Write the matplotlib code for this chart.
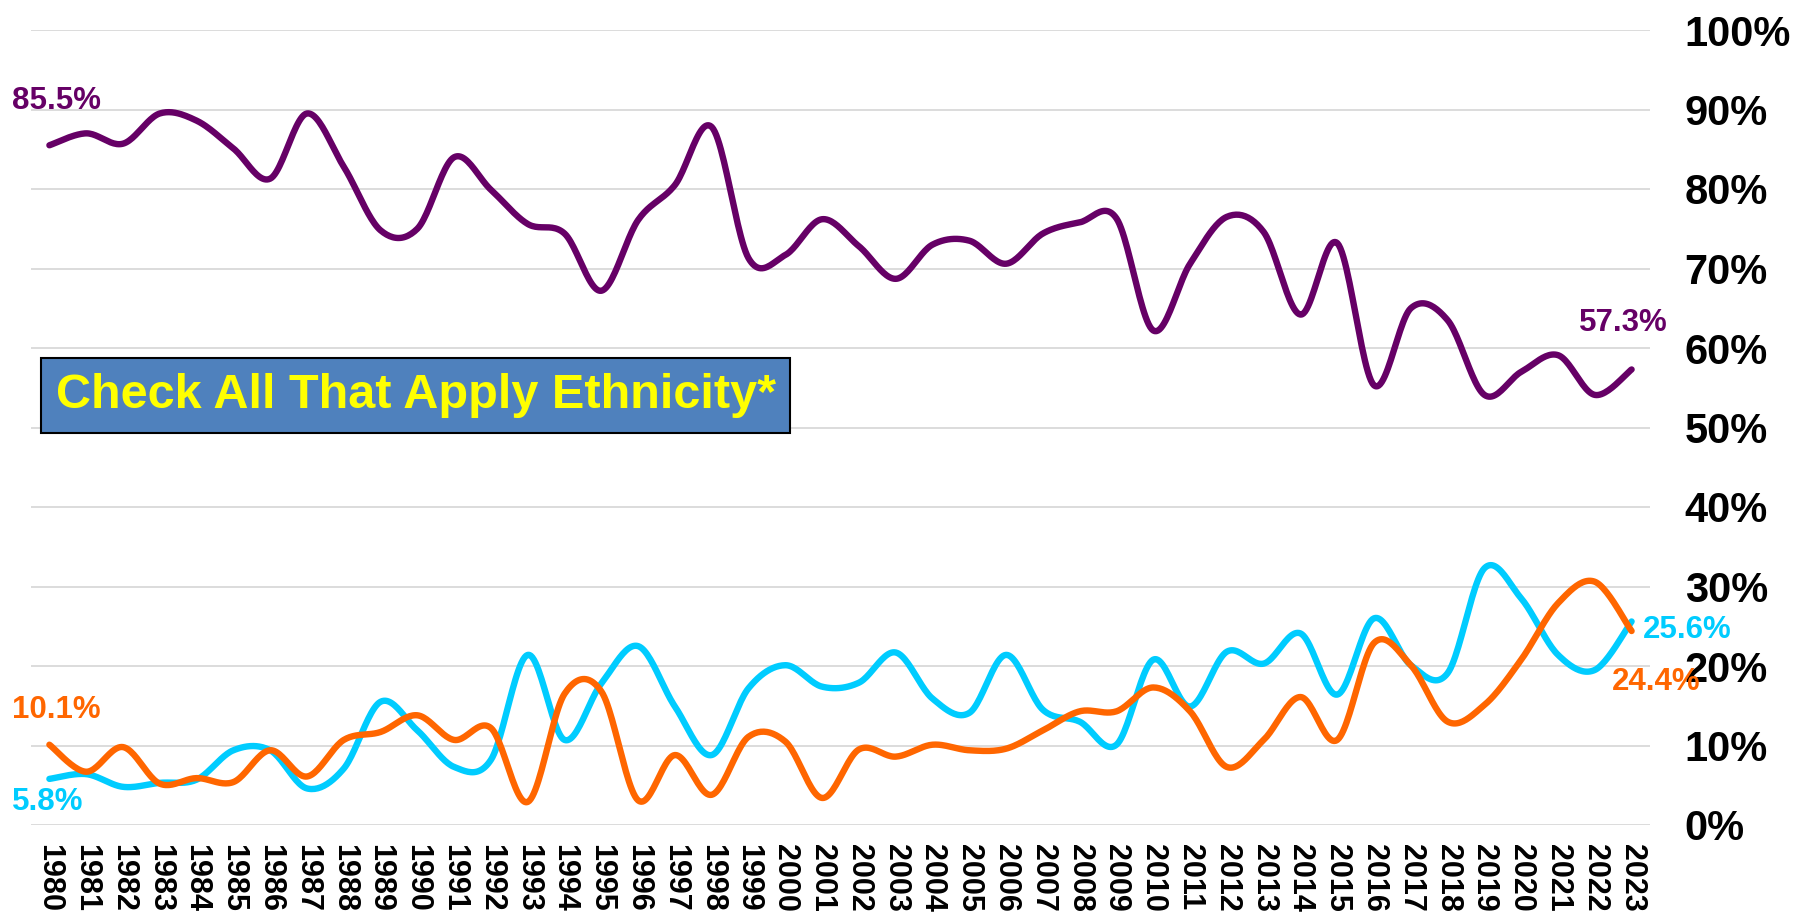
import numpy as np
import matplotlib
matplotlib.use("Agg")
import matplotlib.pyplot as plt
from matplotlib.ticker import FuncFormatter

plt.rcParams['font.family'] = ['Liberation Sans', 'DejaVu Sans']
plt.rcParams['font.weight'] = 'bold'

years = list(range(1980, 2024))

not_hispanic = [85.5, 87.0, 85.7, 89.5, 88.6, 85.1, 81.3, 89.5, 82.8, 74.8,
                75.0, 84.0, 79.9, 75.6, 74.4, 67.2, 76.1, 80.5, 87.8, 71.3,
                71.7, 76.2, 72.8, 68.7, 73.0, 73.5, 70.6, 74.4, 75.8, 76.3,
                62.2, 70.6, 76.5, 74.6, 64.2, 73.2, 55.3, 65.0, 63.5, 54.1,
                57.0, 59.1, 54.1, 57.3]
hispanic = [5.8, 6.4, 4.8, 5.3, 5.7, 9.4, 9.4, 4.6, 7.1, 15.5,
            11.9, 7.3, 8.2, 21.4, 10.7, 17.8, 22.5, 14.9, 8.8, 17.2,
            20.1, 17.4, 17.9, 21.7, 15.9, 14.1, 21.4, 14.5, 13.0, 10.1,
            20.8, 14.9, 21.8, 20.3, 24.1, 16.4, 26.0, 20.1, 19.1, 32.3,
            28.5, 21.4, 19.5, 25.6]
unknown = [10.1, 6.7, 9.8, 5.2, 5.9, 5.4, 9.4, 6.1, 10.7, 11.7,
           13.8, 10.7, 12.2, 2.9, 16.5, 16.8, 3.1, 8.8, 3.8, 11.1,
           10.5, 3.4, 9.5, 8.6, 10.1, 9.4, 9.6, 11.9, 14.3, 14.3,
           17.3, 14.3, 7.3, 10.7, 16.1, 10.7, 22.9, 20.1, 13.0, 15.1,
           20.8, 27.9, 30.6, 24.4]

colors = ['#660066', '#00CCFF', '#FF6600']


def smooth(y, n=24):
    # Catmull-Rom curve through the yearly points (same look as a smoothed office chart line)
    y = np.asarray(y, dtype=float)
    x = np.arange(len(y), dtype=float)
    px = np.concatenate([[x[0]], x, [x[-1]]])
    py = np.concatenate([[y[0]], y, [y[-1]]])
    t = np.linspace(0, 1, n, endpoint=False)[:, None]
    out_x, out_y = [], []
    for i in range(1, len(px) - 2):
        for arr, out in ((px, out_x), (py, out_y)):
            p0, p1, p2, p3 = arr[i - 1], arr[i], arr[i + 1], arr[i + 2]
            c1 = p1 + (p2 - p0) / 6
            c2 = p2 - (p3 - p1) / 6
            b = ((1 - t) ** 3 * p1 + 3 * (1 - t) ** 2 * t * c1
                 + 3 * (1 - t) * t ** 2 * c2 + t ** 3 * p2)
            out.append(b.ravel())
    xs = np.concatenate(out_x + [[x[-1]]])
    ys = np.concatenate(out_y + [[y[-1]]])
    return xs, ys


fig = plt.figure(figsize=(18.02, 9.14), dpi=100)
ax = fig.add_axes([31 / 1802, 89 / 914, 1619 / 1802, 795 / 914])

for series, c in zip([not_hispanic, hispanic, unknown], colors):
    xs, ys = smooth(series)
    ax.plot(xs, ys, color=c, lw=4.6, solid_capstyle='round', zorder=3)

ax.set_xlim(-0.5, len(years) - 0.5)
ax.set_ylim(0, 100)
ax.set_yticks(range(0, 101, 10))
ax.yaxis.set_major_formatter(FuncFormatter(lambda v, _: f"{v:.0f}%"))
ax.yaxis.tick_right()
ax.tick_params(axis='y', length=0, pad=25, labelsize=30)
ax.set_xticks(range(len(years)))
ax.set_xticklabels([str(y) for y in years], rotation=-90, fontsize=22,
                   fontweight='bold', va='top', ha='center')
ax.tick_params(axis='x', length=0, pad=14)
ax.grid(axis='y', color='#D9D9D9', lw=1.3, zorder=0)
for s in ax.spines.values():
    s.set_visible(False)

# end-point value labels
last = len(years) - 1
label_spec = [
    (not_hispanic, 0, (5, 31.7), colors[0]),
    (not_hispanic, last, (-6, 33.5), colors[0]),
    (hispanic, 0, (-1.4, -16.6), colors[1]),
    (hispanic, last, (40, -6), colors[1]),
    (unknown, 0, (4.7, 25), colors[2]),
    (unknown, last, (17.6, -36.7), colors[2]),
]
for series, i, off, c in label_spec:
    ax.annotate(f"{series[i]:.1f}%", (i, series[i]), xytext=off,
                textcoords='offset points', ha='center', va='center',
                color=c, fontsize=22.5, fontweight='bold', zorder=5,
                annotation_clip=False)

ax.text(415.5 / 1802, 1 - 395.5 / 914, "Check All That Apply Ethnicity*",
        transform=fig.transFigure, ha='center', va='center',
        fontsize=35, fontweight='bold', color='#FFFF00', zorder=6,
        bbox=dict(boxstyle='square,pad=0.3', fc='#4F81BD', ec='black', lw=1.5))

fig.savefig("out.png", dpi=100)
